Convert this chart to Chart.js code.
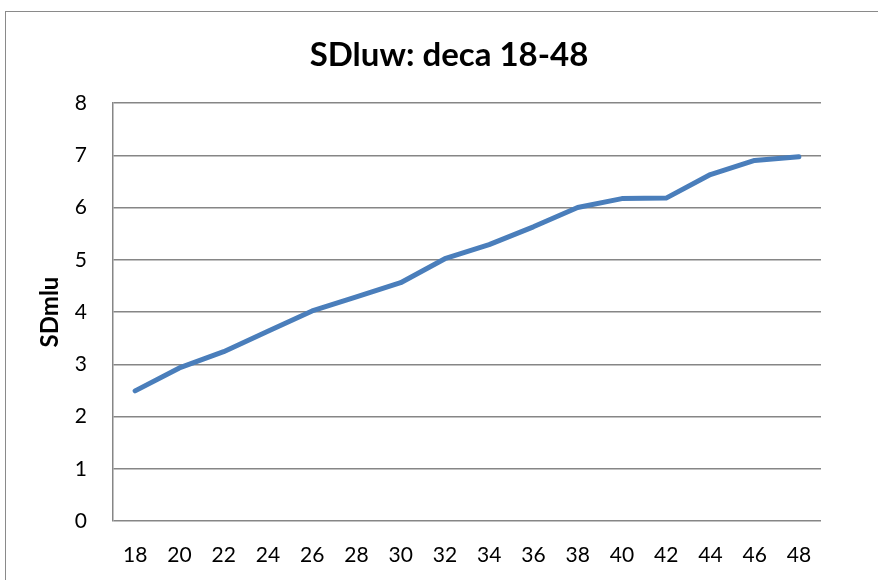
<!DOCTYPE html>
<html>
<head>
<meta charset="utf-8">
<script src="https://cdn.jsdelivr.net/npm/chart.js@4"></script>
<style>
html,body{margin:0;padding:0;background:#fff;overflow:hidden;width:878px;height:580px;}
#frame{position:absolute;left:5px;top:11px;width:1000px;height:1000px;border:1px solid #8a8a8a;box-sizing:border-box;}
#wrap{position:absolute;left:0;top:0;width:898px;height:580px;}
</style>
</head>
<body>
<div id="frame"></div>
<div id="wrap"><canvas id="c" width="898" height="580"></canvas></div>
<script>
const categories = ['18','20','22','24','26','28','30','32','34','36','38','40','42','44','46','48'];
const sdValues = [2.49, 2.93, 3.24, 3.63, 4.02, 4.29, 4.56, 5.02, 5.29, 5.63, 6.00, 6.17, 6.18, 6.63, 6.90, 6.97];
const yTicks = [0, 1, 2, 3, 4, 5, 6, 7, 8];
const chartTitle = 'SDluw: deca 18-48';
const yTitle = 'SDmlu';

const FONT = 'Lato, Carlito, Calibri, sans-serif';

// Centre the chart title across the whole chart frame (as Excel does), not only the padded box.
const centerTitle = {
  id: 'centerTitle',
  afterLayout(chart) {
    const t = chart.titleBlock;
    if (t) { t.left = 0; t.right = chart.width; t.width = chart.width; }
  }
};

new Chart(document.getElementById('c'), {
  type: 'line',
  data: {
    labels: categories,
    datasets: [{
      label: 'SDmlu',
      data: sdValues,
      borderColor: '#4A7EBB',
      backgroundColor: '#4A7EBB',
      borderWidth: 5,
      pointRadius: 0,
      tension: 0,
      borderCapStyle: 'round',
      borderJoinStyle: 'round'
    }]
  },
  plugins: [centerTitle],
  options: {
    responsive: false,
    animation: false,
    layout: { padding: { left: 0, right: 77, top: 0, bottom: 0 } },
    plugins: {
      legend: { display: false },
      tooltip: { enabled: false },
      title: {
        display: true,
        text: chartTitle,
        color: '#000',
        font: { family: FONT, size: 33, weight: 'bold', lineHeight: 1.2 },
        padding: { top: 36, bottom: 27.4 }
      }
    },
    scales: {
      x: {
        offset: true,
        grid: { display: false, drawTicks: false, offset: true },
        border: { display: false },
        ticks: { color: '#000', font: { family: FONT, size: 21 }, padding: 22, maxRotation: 0, autoSkip: false },
        afterFit: s => { s.height = 59; }
      },
      y: {
        min: 0, max: 8,
        afterBuildTicks: s => { s.ticks = yTicks.map(v => ({ value: v })); },
        grid: { color: '#868686', lineWidth: 1.5, drawTicks: false },
        border: { display: true, color: '#868686', width: 1.5 },
        ticks: { color: '#000', font: { family: FONT, size: 21 }, padding: 26 },
        title: {
          display: true,
          text: yTitle,
          color: '#000',
          font: { family: FONT, size: 24, weight: 'bold', lineHeight: 1.2 },
          padding: { top: 35.6, bottom: 0 }
        },
        afterFit: s => { s.width = 113; }
      }
    }
  }
});
</script>
</body>
</html>
